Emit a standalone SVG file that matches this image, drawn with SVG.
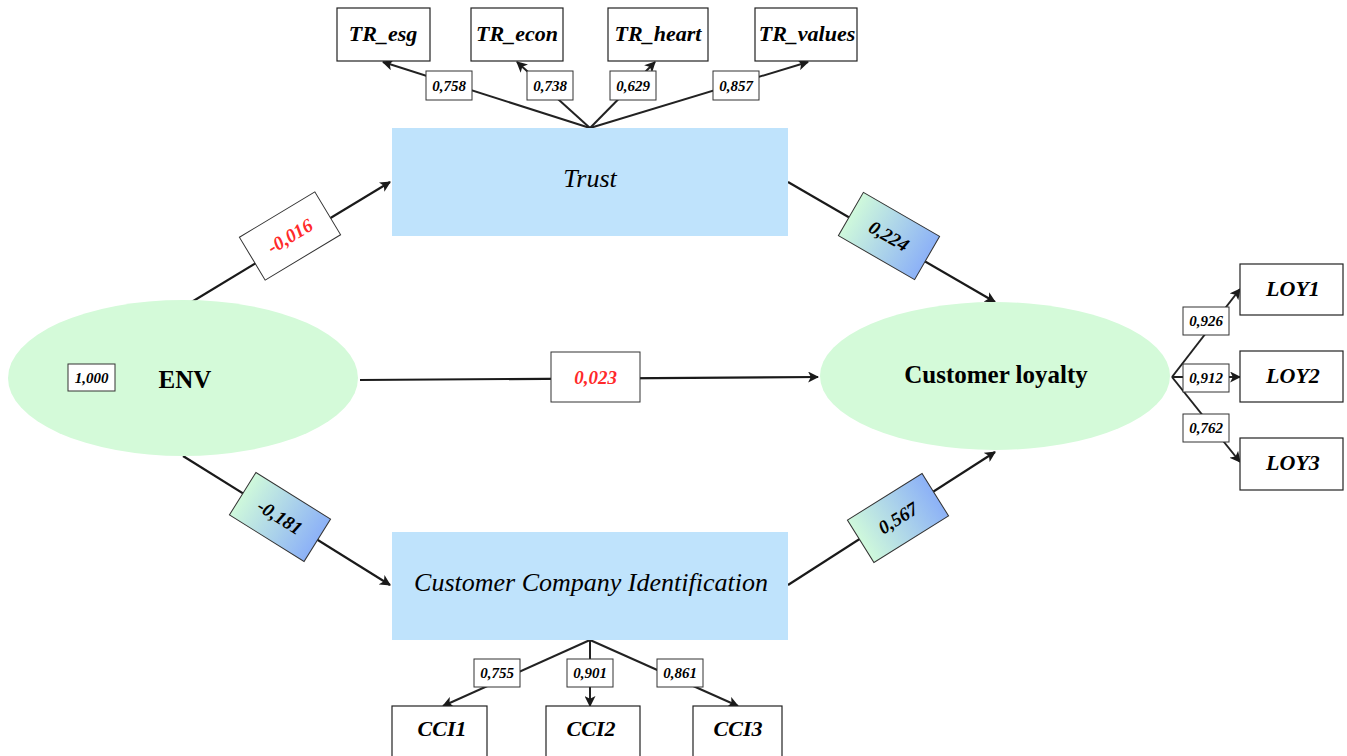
<svg xmlns="http://www.w3.org/2000/svg" width="1347" height="756" viewBox="0 0 1347 756">
  <style>
    .construct { fill: #d4fad9; }
    .block { fill: #bfe3fc; }
    .ind { fill: #ffffff; stroke: #222; stroke-width: 1.2; }
    .wbox { fill: #ffffff; stroke: #333; stroke-width: 1; }
    .pbox { stroke: #333; stroke-width: 1; }
    .link { fill: none; stroke: #1a1a1a; stroke-width: 2.2; }
    .thin { fill: none; stroke: #222; stroke-width: 2; }
    .serif { font-family: "Liberation Serif", "Times New Roman", serif; }
    .big { font-size: 25px; text-anchor: middle; dominant-baseline: central; }
    .blk { font-size: 26px; font-style: italic; text-anchor: middle; dominant-baseline: central; }
    .name { font-size: 22px; font-weight: bold; font-style: italic; text-anchor: middle; dominant-baseline: central; }
    .w { font-size: 15px; font-weight: bold; font-style: italic; text-anchor: middle; dominant-baseline: central; }
    .p { font-size: 19px; font-weight: bold; font-style: italic; text-anchor: middle; dominant-baseline: central; }
    .red { fill: #ff2a2a; }
  </style>
  <defs>
    <marker id="arrow" viewBox="0 0 10 10" refX="9" refY="5" markerUnits="userSpaceOnUse" markerWidth="11" markerHeight="11" orient="auto">
      <path d="M0,0 L10,5 L0,10 L2.5,5 z" fill="#1a1a1a"/>
    </marker>
    <linearGradient id="pathfill" x1="0" y1="0" x2="1" y2="0">
      <stop offset="0" stop-color="#cff9db"/>
      <stop offset="1" stop-color="#8cb1f7"/>
    </linearGradient>
  </defs>

  <!-- structural and measurement connectors -->
  <g id="connectors">
    <line class="link" x1="185" y1="306" x2="390" y2="182" marker-end="url(#arrow)"/>
    <line class="link" x1="788" y1="182" x2="995" y2="302" marker-end="url(#arrow)"/>
    <line class="link" x1="183" y1="456" x2="390" y2="585" marker-end="url(#arrow)"/>
    <line class="link" x1="788" y1="585" x2="995" y2="452" marker-end="url(#arrow)"/>
    <line class="link" x1="360" y1="380" x2="818" y2="377" marker-end="url(#arrow)"/>

    <line class="thin" x1="590" y1="128" x2="383" y2="62" marker-end="url(#arrow)"/>
    <line class="thin" x1="590" y1="128" x2="517" y2="62" marker-end="url(#arrow)"/>
    <line class="thin" x1="590" y1="128" x2="655" y2="62" marker-end="url(#arrow)"/>
    <line class="thin" x1="590" y1="128" x2="808" y2="62" marker-end="url(#arrow)"/>

    <line class="thin" x1="590" y1="640" x2="443" y2="706" marker-end="url(#arrow)"/>
    <line class="thin" x1="590" y1="640" x2="590" y2="706" marker-end="url(#arrow)"/>
    <line class="thin" x1="590" y1="640" x2="738" y2="706" marker-end="url(#arrow)"/>

    <line class="thin" x1="1172" y1="377" x2="1240" y2="289" marker-end="url(#arrow)"/>
    <line class="thin" x1="1172" y1="377" x2="1240" y2="377" marker-end="url(#arrow)"/>
    <line class="thin" x1="1172" y1="377" x2="1240" y2="462" marker-end="url(#arrow)"/>

    <!-- path coefficients -->
    <g transform="translate(290,236) rotate(-31)">
      <rect class="pbox" x="-44" y="-25" width="88" height="50" fill="#ffffff"/>
      <text class="serif p red" x="0" y="0">-0,016</text>
    </g>
    <g transform="translate(889,236) rotate(30)">
      <rect class="pbox" x="-44" y="-25" width="88" height="50" fill="url(#pathfill)"/>
      <text class="serif p" x="0" y="0">0,224</text>
    </g>
    <g transform="translate(280,517) rotate(32)">
      <rect class="pbox" x="-44" y="-25" width="88" height="50" fill="url(#pathfill)"/>
      <text class="serif p" x="0" y="0">-0,181</text>
    </g>
    <g transform="translate(898,518) rotate(-32)">
      <rect class="pbox" x="-44" y="-25" width="88" height="50" fill="url(#pathfill)"/>
      <text class="serif p" x="0" y="0">0,567</text>
    </g>
    <g>
      <rect class="pbox" x="551" y="352" width="89" height="50" fill="#ffffff"/>
      <text class="serif p red" x="595.5" y="377">0,023</text>
    </g>

    <!-- loadings -->
    <rect class="wbox" x="426" y="71" width="46" height="29"/>
    <text class="serif w" x="449" y="85.5">0,758</text>
    <rect class="wbox" x="527" y="71" width="46" height="29"/>
    <text class="serif w" x="550" y="85.5">0,738</text>
    <rect class="wbox" x="610" y="71" width="46" height="29"/>
    <text class="serif w" x="633" y="85.5">0,629</text>
    <rect class="wbox" x="713" y="71" width="46" height="29"/>
    <text class="serif w" x="736" y="85.5">0,857</text>

    <rect class="wbox" x="474" y="659" width="46" height="28"/>
    <text class="serif w" x="497" y="673">0,755</text>
    <rect class="wbox" x="567" y="659" width="46" height="28"/>
    <text class="serif w" x="590" y="673">0,901</text>
    <rect class="wbox" x="657" y="659" width="46" height="28"/>
    <text class="serif w" x="680" y="673">0,861</text>

    <rect class="wbox" x="1183" y="307" width="46" height="28"/>
    <text class="serif w" x="1206" y="321">0,926</text>
    <rect class="wbox" x="1183" y="364" width="46" height="28"/>
    <text class="serif w" x="1206" y="378">0,912</text>
    <rect class="wbox" x="1183" y="414" width="46" height="28"/>
    <text class="serif w" x="1206" y="428">0,762</text>
  </g>

  <!-- constructs -->
  <g id="env">
    <ellipse class="construct" cx="183" cy="378" rx="175" ry="78"/>
    <rect class="wbox" x="68" y="364" width="47" height="27"/>
    <text class="serif w" x="91.5" y="377.5">1,000</text>
    <text class="serif big" x="185" y="379" font-weight="bold">ENV</text>
  </g>
  <g id="trust">
    <rect class="block" x="392" y="128" width="396" height="108"/>
    <text class="serif blk" x="590" y="178">Trust</text>
  </g>
  <g id="cci">
    <rect class="block" x="392" y="532" width="396" height="108"/>
    <text class="serif blk" x="591" y="582">Customer Company Identification</text>
  </g>
  <g id="loyalty">
    <ellipse class="construct" cx="995" cy="376" rx="175" ry="74"/>
    <text class="serif big" x="996" y="374" font-weight="bold">Customer loyalty</text>
  </g>

  <!-- indicators -->
  <g id="tr-esg">
    <rect class="ind" x="337" y="8" width="93" height="53"/>
    <text class="serif name" x="383" y="33">TR_esg</text>
  </g>
  <g id="tr-econ">
    <rect class="ind" x="471" y="8" width="92" height="53"/>
    <text class="serif name" x="517" y="33">TR_econ</text>
  </g>
  <g id="tr-heart">
    <rect class="ind" x="608" y="8" width="100" height="53"/>
    <text class="serif name" x="658" y="33">TR_heart</text>
  </g>
  <g id="tr-values">
    <rect class="ind" x="755" y="8" width="102" height="53"/>
    <text class="serif name" x="807" y="33">TR_values</text>
  </g>

  <g id="cci1">
    <rect class="ind" x="392" y="706" width="95" height="60"/>
    <text class="serif name" x="442" y="728">CCI1</text>
  </g>
  <g id="cci2">
    <rect class="ind" x="546" y="706" width="94" height="60"/>
    <text class="serif name" x="591" y="728">CCI2</text>
  </g>
  <g id="cci3">
    <rect class="ind" x="693" y="706" width="89" height="60"/>
    <text class="serif name" x="738" y="728">CCI3</text>
  </g>

  <g id="loy1">
    <rect class="ind" x="1240" y="264" width="103" height="51"/>
    <text class="serif name" x="1293" y="288">LOY1</text>
  </g>
  <g id="loy2">
    <rect class="ind" x="1240" y="351" width="103" height="51"/>
    <text class="serif name" x="1293" y="375">LOY2</text>
  </g>
  <g id="loy3">
    <rect class="ind" x="1240" y="438" width="103" height="52"/>
    <text class="serif name" x="1293" y="462">LOY3</text>
  </g>
</svg>
